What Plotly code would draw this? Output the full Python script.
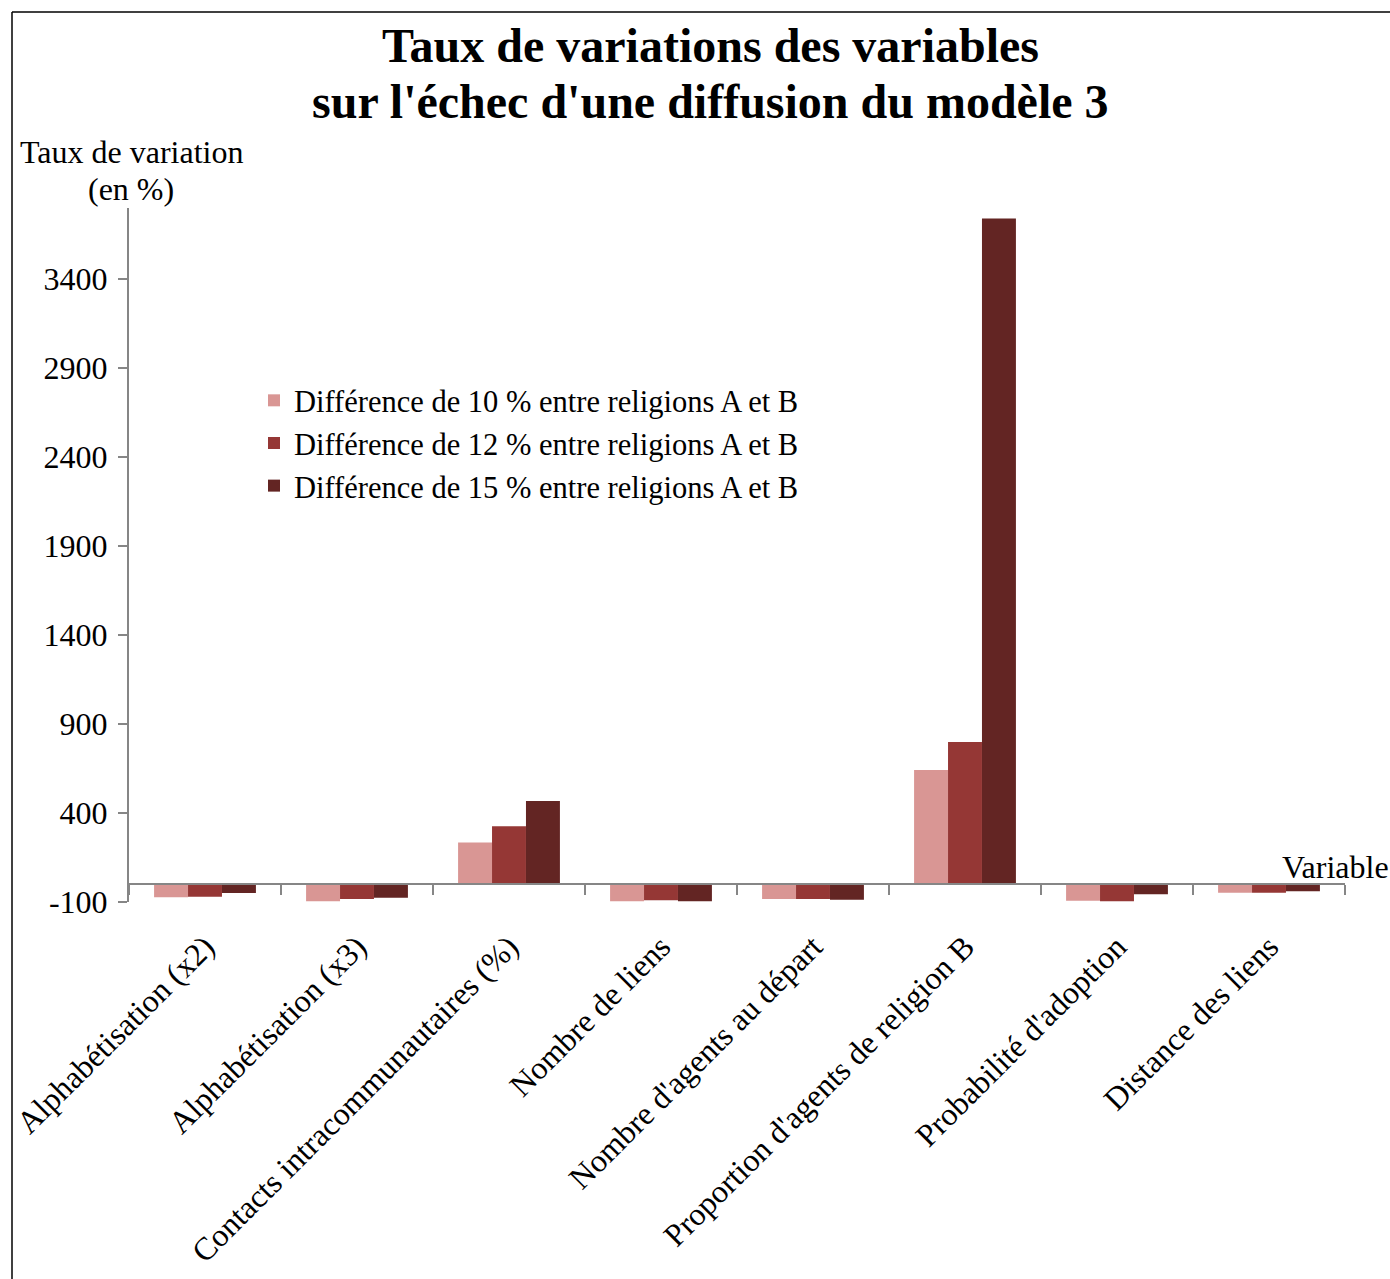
import plotly.graph_objects as go

categories = ["Alphabétisation (x2)", "Alphabétisation (x3)", "Contacts intracommunautaires (%)",
              "Nombre de liens", "Nombre d'agents au départ", "Proportion d'agents de religion B",
              "Probabilité d'adoption", "Distance des liens"]
series_names = ["Différence de 10 % entre religions A et B",
                "Différence de 12 % entre religions A et B",
                "Différence de 15 % entre religions A et B"]
diff10 = [-73, -96, 235, -96, -83, 642, -93, -48]
diff12 = [-70, -83, 325, -90, -83, 799, -96, -48]
diff15 = [-50, -76, 467, -96, -87, 3741, -57, -40]
colors = ["#D99694", "#953735", "#632523"]
y_ticks = [-100, 400, 900, 1400, 1900, 2400, 2900, 3400]
title_lines = ["Taux de variations des variables", "sur l'échec d'une diffusion du modèle 3"]

FONT = "Liberation Serif, Times New Roman, serif"
W, H = 1390, 1279
L, T = 129, 208
R = W - 1345
B = H - 902
pw, ph = W - L - R, H - T - B

def px_to_paper_x(px):
    return (px - L) / pw

def px_to_paper_y(py):
    return (H - B - py) / ph

fig = go.Figure()
for name, vals, col in zip(series_names, [diff10, diff12, diff15], colors):
    fig.add_trace(go.Bar(x=categories, y=vals, name=name, marker=dict(color=col, line=dict(width=0)),
                         legendgroup=name))

fig.update_layout(
    width=W, height=H,
    margin=dict(l=L, r=R, t=T, b=B, autoexpand=False),
    paper_bgcolor="white", plot_bgcolor="white",
    font=dict(family=FONT, size=32, color="black"),
    barmode="group", bargap=0.33, bargroupgap=0,
    legend=dict(x=px_to_paper_x(254), y=px_to_paper_y(374), xanchor="left", yanchor="top",
                bgcolor="rgba(0,0,0,0)", font=dict(family=FONT, size=30.5), tracegroupgap=0,
                traceorder="normal"),
    showlegend=True,
)
fig.update_yaxes(range=[-100, 3800], tickvals=y_ticks, ticktext=[str(v) for v in y_ticks],
                 showgrid=False, zeroline=True,
                 zerolinecolor="#868686", zerolinewidth=2,
                 showline=True, linecolor="#868686", linewidth=2,
                 ticks="outside", ticklen=9, tickcolor="#868686", tickwidth=2,
                 tickfont=dict(family=FONT, size=32, color="black"), ticklabelstandoff=4)
fig.update_xaxes(anchor="free", position=100 / 3900, showline=True, linecolor="#868686", linewidth=2,
                 ticks="outside", tickson="boundaries", ticklen=10, tickcolor="#868686", tickwidth=2,
                 tickangle=-45, tickfont=dict(family=FONT, size=32, color="black"),
                 showgrid=False, ticklabelstandoff=30)

# title (two lines, bold)
for line, yc in zip(title_lines, [46, 101]):
    fig.add_annotation(text="<b>" + line + "</b>", xref="paper", yref="paper",
                       x=px_to_paper_x(710), y=px_to_paper_y(yc), xanchor="center", yanchor="middle",
                       showarrow=False, font=dict(family=FONT, size=48, color="black"))

fig.add_annotation(text="Taux de variation", xref="paper", yref="paper",
                   x=px_to_paper_x(131), y=px_to_paper_y(152), xanchor="center", yanchor="middle",
                   showarrow=False, font=dict(family=FONT, size=32, color="black"))
fig.add_annotation(text="(en %)", xref="paper", yref="paper",
                   x=px_to_paper_x(131), y=px_to_paper_y(189), xanchor="center", yanchor="middle",
                   showarrow=False, font=dict(family=FONT, size=32, color="black"))
fig.add_annotation(text="Variable", xref="paper", yref="paper",
                   x=px_to_paper_x(1391), y=px_to_paper_y(867), xanchor="right", yanchor="middle",
                   showarrow=False, font=dict(family=FONT, size=32, color="black"))

# outer frame of the chart area
fig.add_shape(type="line", xref="paper", yref="paper",
              x0=px_to_paper_x(12), x1=px_to_paper_x(12), y0=px_to_paper_y(12), y1=px_to_paper_y(1290),
              line=dict(color="black", width=1.5))
fig.add_shape(type="line", xref="paper", yref="paper",
              x0=px_to_paper_x(12), x1=px_to_paper_x(1400), y0=px_to_paper_y(12), y1=px_to_paper_y(12),
              line=dict(color="black", width=1.5))

fig.write_html("out.html", config={"displayModeBar": False},
               post_script="document.body.style.margin='0';document.body.style.overflow='hidden';")
